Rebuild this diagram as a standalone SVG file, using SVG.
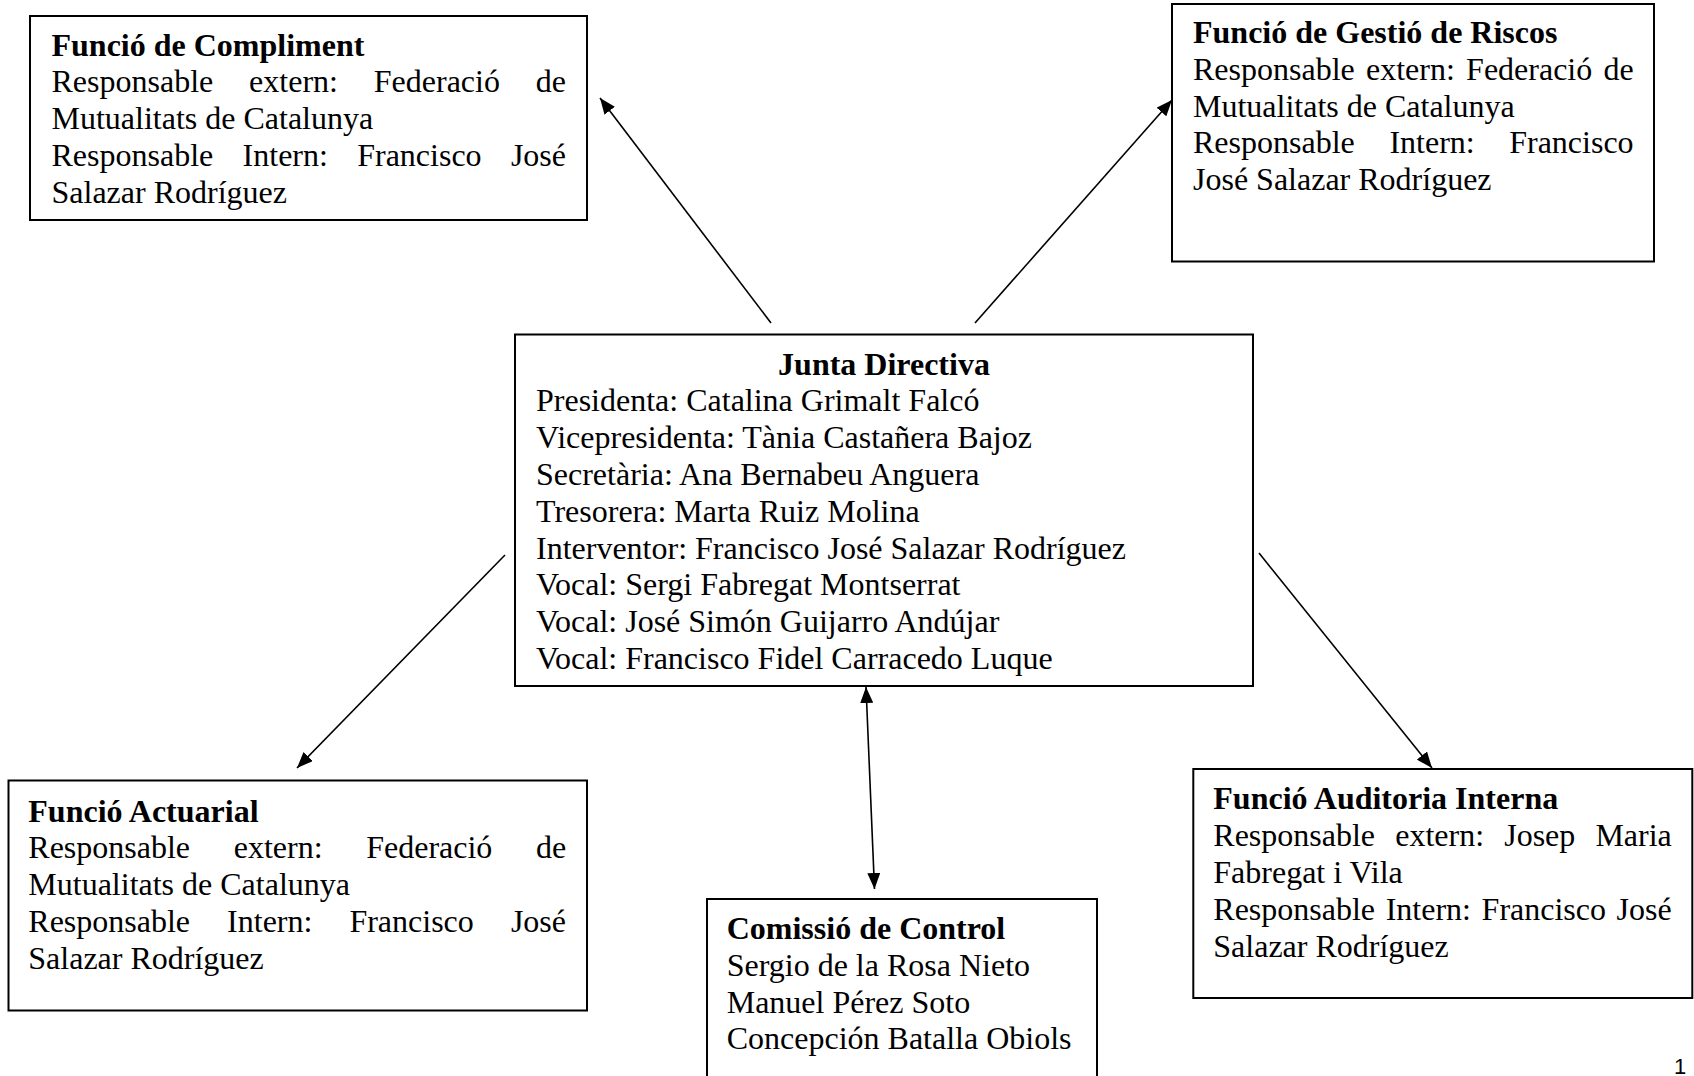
<svg xmlns="http://www.w3.org/2000/svg" width="1694" height="1076" viewBox="0 0 1694 1076">
<style>
  .box { fill: #ffffff; stroke: #000000; stroke-width: 2; }
  text { font-family: "Liberation Serif", "Times New Roman", serif; font-size: 32px; fill: #000000; }
  .b { font-weight: bold; }
  .conn { stroke: #000000; stroke-width: 1.6; fill: none; }
  .pg { font-family: "Liberation Sans", Arial, sans-serif; font-size: 22px; }
</style>
<defs>
  <marker id="arrow" markerUnits="userSpaceOnUse" markerWidth="16" markerHeight="13" refX="16" refY="6.5" orient="auto-start-reverse">
    <path d="M0,0 L16,6.5 L0,13 Z" fill="#000000"/>
  </marker>
</defs>
<rect width="1694" height="1076" fill="#ffffff"/>

<g id="connectors">
  <line class="conn" x1="771" y1="323" x2="600" y2="98" marker-end="url(#arrow)"/>
  <line class="conn" x1="975" y1="323" x2="1172" y2="100" marker-end="url(#arrow)"/>
  <line class="conn" x1="505" y1="555" x2="297" y2="768" marker-end="url(#arrow)"/>
  <line class="conn" x1="1259" y1="553" x2="1432" y2="768" marker-end="url(#arrow)"/>
  <line class="conn" x1="866" y1="687" x2="874.5" y2="889" marker-start="url(#arrow)" marker-end="url(#arrow)"/>
</g>

<g id="compliment">
  <rect class="box" x="30" y="16" width="557" height="204"/>
  <text class="b" x="51.5" y="55.5">Funció de Compliment</text>
  <text y="92.3"><tspan x="51.5">Responsable</tspan><tspan x="249.1">extern:</tspan><tspan x="373.8">Federació</tspan><tspan x="535.8">de</tspan></text>
  <text x="51.5" y="129.1">Mutualitats de Catalunya</text>
  <text y="165.9"><tspan x="51.5">Responsable</tspan><tspan x="242.6">Intern:</tspan><tspan x="357.2">Francisco</tspan><tspan x="510.9">José</tspan></text>
  <text x="51.5" y="202.7">Salazar Rodríguez</text>
</g>

<g id="riscos">
  <rect class="box" x="1172" y="4" width="482" height="257.5"/>
  <text class="b" x="1193" y="43">Funció de Gestió de Riscos</text>
  <text y="79.8"><tspan x="1193">Responsable</tspan><tspan x="1366">extern:</tspan><tspan x="1466.1">Federació</tspan><tspan x="1603.5">de</tspan></text>
  <text x="1193" y="116.6">Mutualitats de Catalunya</text>
  <text y="153.4"><tspan x="1193">Responsable</tspan><tspan x="1389.4">Intern:</tspan><tspan x="1509.2">Francisco</tspan></text>
  <text x="1193" y="190.2">José Salazar Rodríguez</text>
</g>

<g id="junta">
  <rect class="box" x="515" y="334.5" width="738" height="351.5"/>
  <text class="b" x="884" y="374.5" text-anchor="middle">Junta Directiva</text>
  <text x="536" y="411.3">Presidenta: Catalina Grimalt Falcó</text>
  <text x="536" y="448.1">Vicepresidenta: Tània Castañera Bajoz</text>
  <text x="536" y="484.9">Secretària: Ana Bernabeu Anguera</text>
  <text x="536" y="521.7">Tresorera: Marta Ruiz Molina</text>
  <text x="536" y="558.5">Interventor: Francisco José Salazar Rodríguez</text>
  <text x="536" y="595.3">Vocal: Sergi Fabregat Montserrat</text>
  <text x="536" y="632.1">Vocal: José Simón Guijarro Andújar</text>
  <text x="536" y="668.9">Vocal: Francisco Fidel Carracedo Luque</text>
</g>

<g id="actuarial">
  <rect class="box" x="8.5" y="780.5" width="578.5" height="230"/>
  <text class="b" x="28.3" y="821.5">Funció Actuarial</text>
  <text y="858.3"><tspan x="28.3">Responsable</tspan><tspan x="233.7">extern:</tspan><tspan x="366.2">Federació</tspan><tspan x="535.9">de</tspan></text>
  <text x="28.3" y="895.1">Mutualitats de Catalunya</text>
  <text y="931.9"><tspan x="28.3">Responsable</tspan><tspan x="227.1">Intern:</tspan><tspan x="349.4">Francisco</tspan><tspan x="510.9">José</tspan></text>
  <text x="28.3" y="968.7">Salazar Rodríguez</text>
</g>

<g id="comissio">
  <rect class="box" x="707" y="899" width="390" height="200"/>
  <text class="b" x="726.7" y="939">Comissió de Control</text>
  <text x="726.7" y="975.8">Sergio de la Rosa Nieto</text>
  <text x="726.7" y="1012.6">Manuel Pérez Soto</text>
  <text x="726.7" y="1049.4">Concepción Batalla Obiols</text>
</g>

<g id="auditoria">
  <rect class="box" x="1193.3" y="769" width="499" height="229"/>
  <text class="b" x="1213.3" y="809.3">Funció Auditoria Interna</text>
  <text y="846.1"><tspan x="1213.3">Responsable</tspan><tspan x="1395.2">extern:</tspan><tspan x="1504.2">Josep</tspan><tspan x="1595.4">Maria</tspan></text>
  <text x="1213.3" y="882.9">Fabregat i Vila</text>
  <text y="919.7"><tspan x="1213.3">Responsable</tspan><tspan x="1385.7">Intern:</tspan><tspan x="1481.6">Francisco</tspan><tspan x="1616.6">José</tspan></text>
  <text x="1213.3" y="956.5">Salazar Rodríguez</text>
</g>

<g id="page-number">
  <text class="pg" x="1674" y="1074">1</text>
</g>
</svg>
